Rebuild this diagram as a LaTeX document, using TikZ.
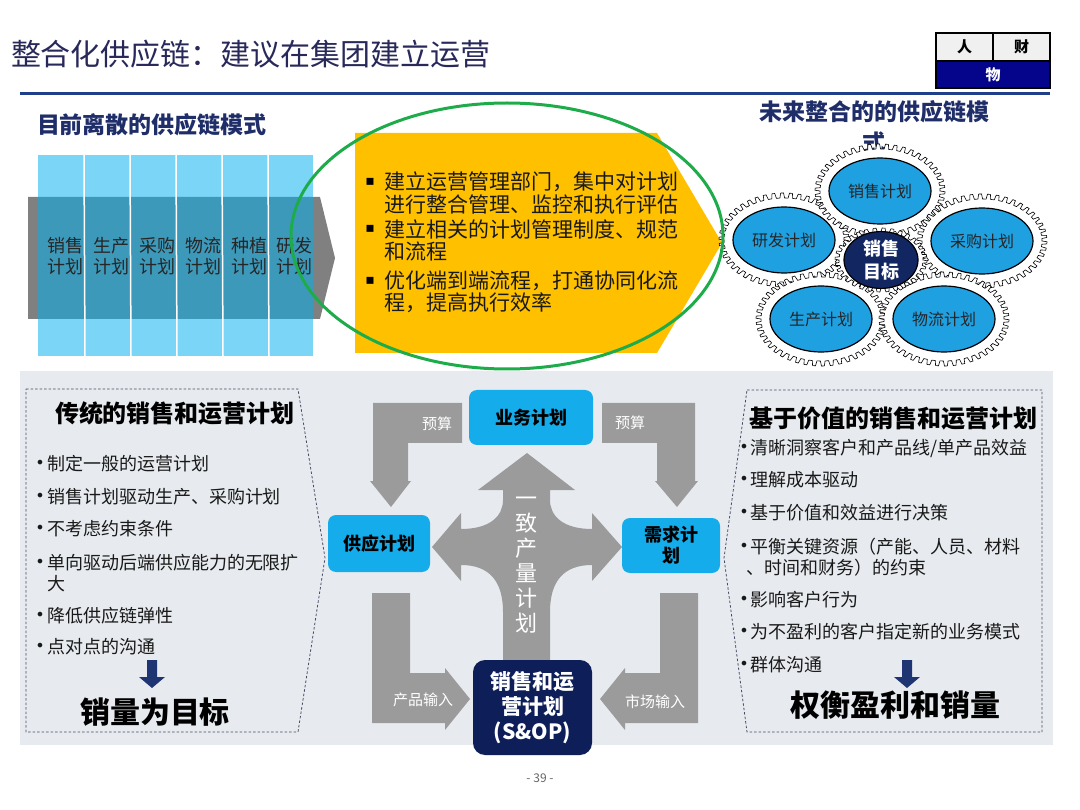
\documentclass[tikz,border=0pt]{standalone}
\usepackage{fontspec}
\setmainfont{Noto Sans CJK SC}
\newfontfamily\symf{DejaVu Sans}
\usetikzlibrary{shapes.geometric}
\definecolor{titlec}{RGB}{40,40,90}
\definecolor{navy}{RGB}{31,45,105}
\definecolor{lineblue}{RGB}{31,63,138}
\definecolor{colblue}{RGB}{0,176,240}
\definecolor{arrgray}{RGB}{128,128,128}
\definecolor{amber}{RGB}{255,192,0}
\definecolor{ellgreen}{RGB}{30,172,75}
\definecolor{gearblue}{RGB}{30,160,225}
\definecolor{gearnavy}{RGB}{18,38,98}
\definecolor{panel}{RGB}{231,235,239}
\definecolor{midgray}{RGB}{155,155,155}
\definecolor{cyanbox}{RGB}{20,172,234}
\definecolor{snop}{RGB}{14,30,88}
\definecolor{darrow}{RGB}{30,52,115}
\definecolor{boxnavy}{RGB}{5,5,140}
\definecolor{cellgray}{RGB}{240,240,240}
\definecolor{dashc}{RGB}{70,75,100}
\newcommand\fsz[2]{\fontsize{#1}{#2}\selectfont}
\newcommand\gearring[7]{%
  \pgfmathsetmacro\gs{360/#5}%
  \pgfmathsetmacro\gA{0.12*\gs}\pgfmathsetmacro\gB{0.45*\gs}\pgfmathsetmacro\gC{0.57*\gs}%
  \pgfmathsetmacro\ra{#3+#6}\pgfmathsetmacro\rb{#4+#6}%
  \pgfmathsetmacro\ta{#3+#7}\pgfmathsetmacro\tb{#4+#7}%
  \pgfmathtruncatemacro\gN{#5-1}%
  \filldraw[gearteeth,shift={(#1,#2)}] ({\ra},0)
    \foreach \k in {0,...,\gN}{
      -- ({\ra*cos(\k*\gs)},{\rb*sin(\k*\gs)})
      -- ({\ta*cos(\k*\gs+\gA)},{\tb*sin(\k*\gs+\gA)})
      -- ({\ta*cos(\k*\gs+\gB)},{\tb*sin(\k*\gs+\gB)})
      -- ({\ra*cos(\k*\gs+\gC)},{\rb*sin(\k*\gs+\gC)})
    } -- cycle;}
\tikzset{
  cell/.style={draw=black, line width=1.8pt, font=\fsz{15}{18}\bfseries, minimum width=57pt, minimum height=28pt},
  coltext/.style={align=center, font=\fsz{18}{21}, text=black!85},
  ytext/.style={anchor=west, font=\fsz{21}{24}, text=black!90},
  ybul/.style={font=\symf\fsz{14}{16}, text=black},
  gearteeth/.style={fill=white, draw=black, line width=0.6pt},
  gearell/.style={ellipse, draw=black, line width=1.2pt, fill=gearblue, minimum width=102pt, minimum height=66pt, font=\fsz{16}{19}, text=black!85},
  bultext/.style={anchor=west, font=\fsz{18}{21}, text=black!90},
  bul/.style={font=\symf\fsz{16}{18}, text=black!90},
  dashbox/.style={draw=dashc, line width=0.8pt, dash pattern=on 2.5pt off 2pt},
  bighead/.style={font=\fsz{24}{28}\bfseries, text=black},
  concl/.style={font=\fsz{30}{34}\bfseries, text=black},
  cbox/.style={fill=cyanbox, rounded corners=8pt, align=center, font=\fsz{18}{21}\bfseries, text=black},
  grayarrow/.style={fill=midgray},
  alabel/.style={font=\fsz{15}{18}, text=white},
  downarrow/.style={fill=darrow}
}
\begin{document}
\begin{tikzpicture}[x=1pt,y=-1pt, every node/.style={inner sep=0pt, outer sep=0pt}]
\useasboundingbox (0,0) rectangle (1080,810);
\fill[white] (0,0) rectangle (1080,810);

% ---------- title ----------
\node[anchor=west, text=titlec, font=\fsz{30}{36}] (title) at (11,54) {整合化供应链：建议在集团建立运营};
\draw[lineblue, line width=3pt] (20,94) -- (1050,94);

% ---------- top-right box ----------
\node[cell, fill=cellgray] (ren) at (964.5,47) {人};
\node[cell, fill=cellgray] (cai) at (1021.5,47) {财};
\node[cell, fill=boxnavy, text=white, minimum width=114pt, minimum height=27pt] (wu) at (993,74.5) {物};

% ---------- left: discrete chain ----------
\node[anchor=west, text=navy, font=\fsz{23}{28}\bfseries] (lefthead) at (37,125) {目前离散的供应链模式};
\fill[arrgray] (28,197) -- (320,197) -- (335,258) -- (320,319) -- (28,319) -- cycle;
\fill[colblue, fill opacity=0.52] (38,155) rectangle (313,356);
\foreach \x in {84,130,176,222,268} \draw[white, line width=1.5pt] (\x,155) -- (\x+1,356);
\node[coltext] (c1) at (65,256) {销售\\计划};
\node[coltext] (c2) at (111,256) {生产\\计划};
\node[coltext] (c3) at (157,256) {采购\\计划};
\node[coltext] (c4) at (203,256) {物流\\计划};
\node[coltext] (c5) at (249,256) {种植\\计划};
\node[coltext] (c6) at (294,256) {研发\\计划};

% ---------- yellow chevron ----------
\fill[amber] (355,133) -- (657,133) -- (722,243) -- (657,353) -- (355,353) -- cycle;
\node[ybul] (yb1) at (370,182) {▪};
\node[ytext] (y1) at (384,182) {建立运营管理部门，集中对计划};
\node[ytext] (y2) at (384,205) {进行整合管理、监控和执行评估};
\node[ybul] (yb2) at (370,229) {▪};
\node[ytext] (y3) at (384,229) {建立相关的计划管理制度、规范};
\node[ytext] (y4) at (384,252) {和流程};
\node[ybul] (yb3) at (370,281) {▪};
\node[ytext] (y5) at (384,281) {优化端到端流程，打通协同化流};
\node[ytext] (y6) at (384,303) {程，提高执行效率};

% ---------- right: integrated gears ----------
\node[align=center, text=navy, font=\fsz{23}{31}\bfseries] (righthead) at (874,127) {未来整合的的供应链模\\式};
\gearring{784}{240}{51}{33}{46}{9}{14}
\node[gearell] (gyf) at (784,240) {研发计划};
\gearring{880}{191}{51}{33}{46}{9}{14}
\node[gearell] (gxs) at (880,191) {销售计划};
\gearring{982}{241}{51}{33}{46}{9}{14}
\node[gearell] (gcg) at (982,241) {采购计划};
\gearring{821}{319}{51}{33}{46}{9}{14}
\node[gearell] (gsc) at (821,319) {生产计划};
\gearring{944}{319}{51}{33}{46}{9}{14}
\node[gearell] (gwl) at (944,319) {物流计划};
\gearring{881}{260}{37}{23}{32}{5}{9}
\node[ellipse, draw=black, line width=1.2pt, fill=gearnavy, minimum width=74pt, minimum height=46pt, align=center, font=\fsz{18}{23}\bfseries, text=white] (gmb) at (881,260) {销售\\目标};

% green ellipse
\draw[ellgreen, line width=3pt] (507,236) ellipse [x radius=216, y radius=133];

% ---------- bottom panel ----------
\fill[panel] (20,371) rectangle (1053,745);

% left dashed box
\draw[dashbox] (26,389) -- (298,389) -- (325,558) -- (298,732) -- (26,732) -- cycle;
\node[bighead] (lh) at (175,413) {传统的销售和运营计划};
\node[bul] (lb1) at (40,464) {•};
\node[bultext] (l1) at (47,464) {制定一般的运营计划};
\node[bul] (lb2) at (40,497) {•};
\node[bultext] (l2) at (47,497) {销售计划驱动生产、采购计划};
\node[bul] (lb3) at (40,529) {•};
\node[bultext] (l3) at (47,529) {不考虑约束条件};
\node[bul] (lb4) at (40,563) {•};
\node[bultext] (l4) at (47,563) {单向驱动后端供应能力的无限扩};
\node[bultext] (l4b) at (47,584) {大};
\node[bul] (lb5) at (40,616) {•};
\node[bultext] (l5) at (47,616) {降低供应链弹性};
\node[bul] (lb6) at (40,647) {•};
\node[bultext] (l6) at (47,647) {点对点的沟通};
\fill[downarrow] (147,660) -- (157,660) -- (157,677) -- (165,677) -- (152,688) -- (139,677) -- (147,677) -- cycle;
\node[concl] (lc) at (155,712) {销量为目标};

% right dashed box
\draw[dashbox] (747,390) -- (1042,390) -- (1042,732) -- (747,732) -- (724,558) -- cycle;
\node[bighead] (rh) at (893,418) {基于价值的销售和运营计划};
\node[bul] (rb1) at (744,448) {•};
\node[bultext] (r1) at (750,448) {清晰洞察客户和产品线/单产品效益};
\node[bul] (rb2) at (744,480) {•};
\node[bultext] (r2) at (750,480) {理解成本驱动};
\node[bul] (rb3) at (744,513) {•};
\node[bultext] (r3) at (750,513) {基于价值和效益进行决策};
\node[bul] (rb4) at (744,547) {•};
\node[bultext] (r4) at (750,547) {平衡关键资源（产能、人员、材料};
\node[bultext] (r4b) at (746,568) {、时间和财务）的约束};
\node[bul] (rb5) at (744,600) {•};
\node[bultext] (r5) at (750,600) {影响客户行为};
\node[bul] (rb6) at (744,632) {•};
\node[bultext] (r6) at (750,632) {为不盈利的客户指定新的业务模式};
\node[bul] (rb7) at (744,665) {•};
\node[bultext] (r7) at (750,665) {群体沟通};
\fill[downarrow] (902,660) -- (912,660) -- (912,677) -- (920,677) -- (907,688) -- (894,677) -- (902,677) -- cycle;
\node[concl] (rc) at (895,705) {权衡盈利和销量};

% ---------- central S&OP diagram ----------
\fill[grayarrow] (462,403) -- (373,403) -- (373,481) -- (370,481) -- (391,507) -- (411,481) -- (408,481) -- (408,443) -- (462,443) -- cycle;
\fill[grayarrow] (602,403) -- (695,403) -- (695,481) -- (698,481) -- (677,507) -- (655,481) -- (657,481) -- (657,443) -- (602,443) -- cycle;
\fill[grayarrow] (372,593) -- (410,593) -- (410,673) -- (445,673) -- (445,668) -- (470,699) -- (445,730) -- (445,723) -- (372,723) -- cycle;
\fill[grayarrow] (698,593) -- (660,593) -- (660,673) -- (625,673) -- (625,668) -- (600,699) -- (625,730) -- (625,723) -- (698,723) -- cycle;
\node[alabel] (bud1) at (437,424) {预算};
\node[alabel] (bud2) at (630,423) {预算};
\node[alabel] (pin) at (423,700) {产品输入};
\node[alabel] (min) at (655,702) {市场输入};
\fill[grayarrow] (527,453) -- (575,490) -- (550,490) -- (550,500)
  .. controls (550,516) and (563,529) .. (592,529) -- (592,513) -- (622,547) -- (592,581) -- (592,565)
  .. controls (563,565) and (550,582) .. (550,612) -- (550,668) -- (503,668) -- (503,612)
  .. controls (503,582) and (490,565) .. (461,565) -- (461,581) -- (432,547) -- (461,513) -- (461,529)
  .. controls (490,529) and (503,516) .. (503,500) -- (503,490) -- (478,490) -- cycle;
\node[align=center, font=\fsz{22}{25}, text=white] (vt) at (526,565.5) {一\\致\\产\\量\\计\\划};
\node[cbox, minimum width=124pt, minimum height=55pt] (yw) at (531,417.5) {业务计划};
\node[cbox, minimum width=102pt, minimum height=57pt] (gy) at (379,543.5) {供应计划};
\node[cbox, minimum width=98pt, minimum height=55pt] (xq) at (671,545.5) {需求计\\划};
\node[fill=snop, rounded corners=12pt, minimum width=119pt, minimum height=95pt, align=center, font=\fsz{21}{25}\bfseries, text=white] (sop) at (532.5,707.5) {销售和运\\营计划\\(S\&OP)};

% page number
\node[font=\fsz{12}{14}, text=black!60] (pg) at (540,778) {- 39 -};
\end{tikzpicture}
\end{document}
